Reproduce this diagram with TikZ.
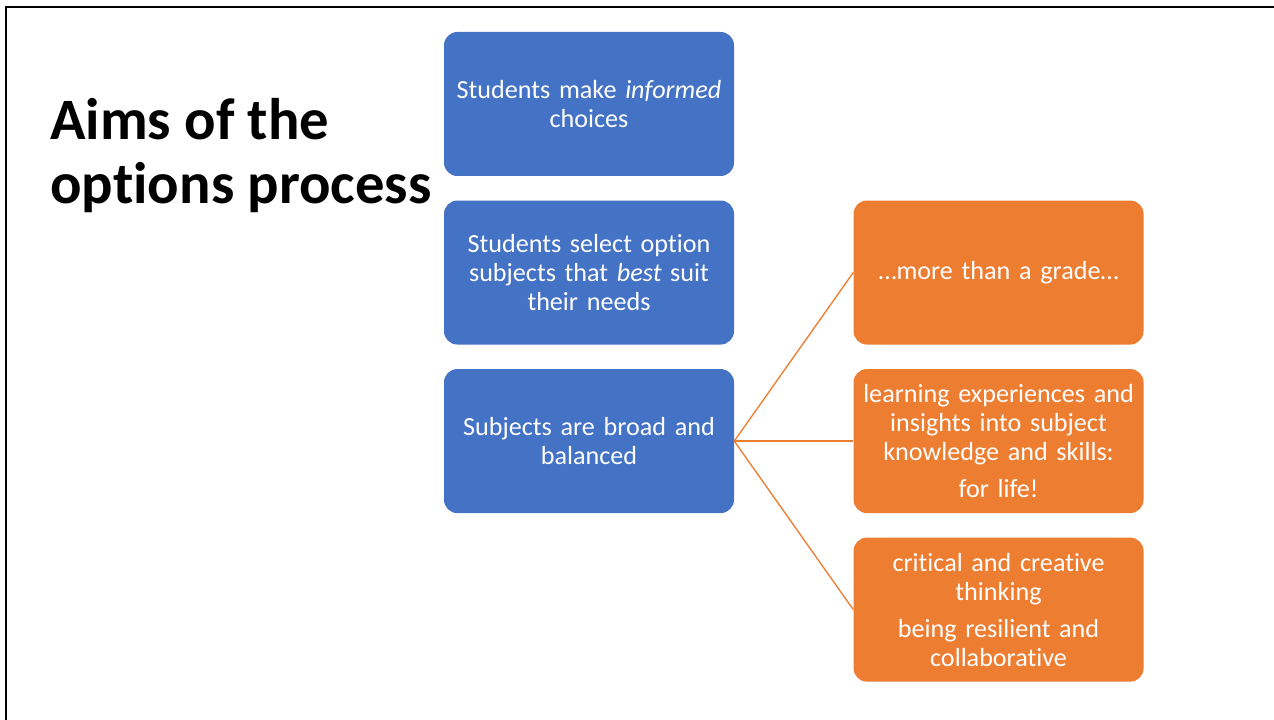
\documentclass[tikz,border=0pt]{standalone}
\usepackage{fontspec}
\setmainfont{Carlito}[Ligatures=NoCommon]
\usepackage{tikz}
\usetikzlibrary{positioning}
\usepackage{xcolor}
\definecolor{boxblue}{HTML}{4472C4}
\definecolor{boxorange}{HTML}{ED7D31}

\begin{document}
\begin{tikzpicture}[x=0.75pt,y=-0.75pt,
    aimbox/.style={rounded corners=10pt, minimum width=217.5pt, minimum height=108pt,
      text width=212pt, align=center, text=white, inner sep=0pt,
      font=\fontsize{19.6pt}{21.75pt}\selectfont},
    blue box/.style={aimbox, fill=boxblue},
    orange box/.style={aimbox, fill=boxorange},
    link/.style={boxorange, line width=1pt}]
  % Rahmen
  \useasboundingbox (0,0) rectangle (1274,720);
  \draw[line width=2.2pt] (6,720) -- (6,7) -- (1274,7);

  % Titel
  \node[anchor=west, align=left, inner sep=0pt,
        font=\fontsize{44pt}{48pt}\selectfont\bfseries] (title) at (50,156)
    {Aims of the\\options process};

  % linke Spalte (blau)
  \node[blue box] (b1) at (589,104) {Students make \textit{informed}\\choices};
  \node[blue box, below=18pt of b1] (b2) {Students select option\\subjects that \textit{best} suit\\their needs};
  \node[blue box, below=18pt of b2] (b3) {Subjects are broad and\\balanced};

  % rechte Spalte (orange)
  \node[orange box, right=89.25pt of b3] (o2)
    {learning experiences and\\insights into subject\\knowledge and skills:\\[6pt]for life!};
  \node[orange box, above=18pt of o2] (o1) {\dots more than a grade\dots};
  \node[orange box, below=18pt of o2] (o3)
    {critical and creative\\thinking\\[6pt]being resilient and\\collaborative};

  % Verbindungen
  \draw[link] (b3.east) -- (o1.west);
  \draw[link] (b3.east) -- (o2.west);
  \draw[link] (b3.east) -- (o3.west);
\end{tikzpicture}
\end{document}
